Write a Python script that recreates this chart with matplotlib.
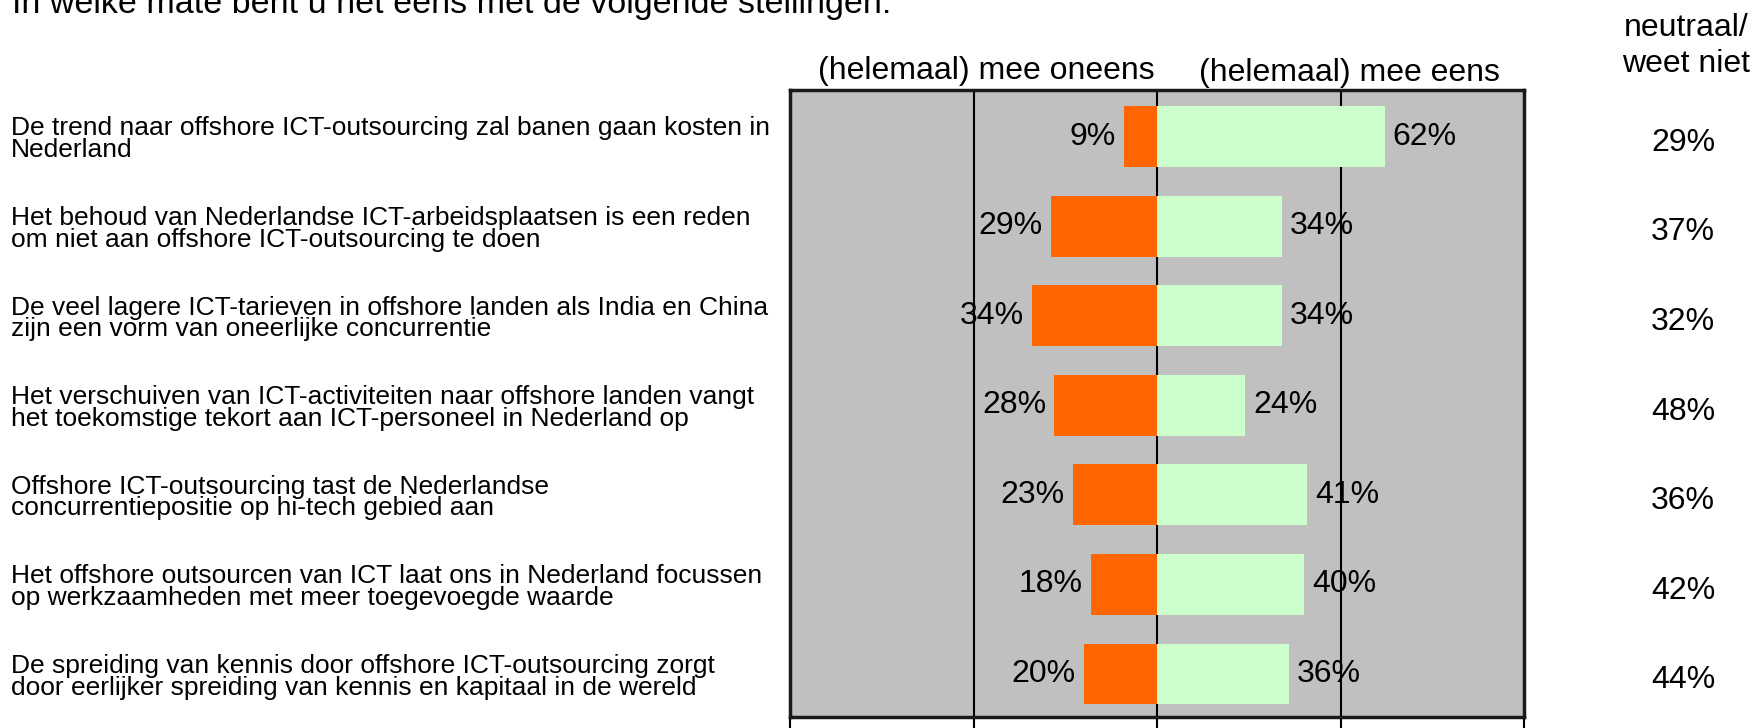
import matplotlib
matplotlib.use('Agg')
import matplotlib.pyplot as plt

plt.rcParams['font.family'] = ['Liberation Sans', 'DejaVu Sans']

stellingen = [
    'De trend naar offshore ICT-outsourcing zal banen gaan kosten in\nNederland',
    'Het behoud van Nederlandse ICT-arbeidsplaatsen is een reden\nom niet aan offshore ICT-outsourcing te doen',
    'De veel lagere ICT-tarieven in offshore landen als India en China\nzijn een vorm van oneerlijke concurrentie',
    'Het verschuiven van ICT-activiteiten naar offshore landen vangt\nhet toekomstige tekort aan ICT-personeel in Nederland op',
    'Offshore ICT-outsourcing tast de Nederlandse\nconcurrentiepositie op hi-tech gebied aan',
    'Het offshore outsourcen van ICT laat ons in Nederland focussen\nop werkzaamheden met meer toegevoegde waarde',
    'De spreiding van kennis door offshore ICT-outsourcing zorgt\ndoor eerlijker spreiding van kennis en kapitaal in de wereld',
]
oneens = [9, 29, 34, 28, 23, 18, 20]
eens = [62, 34, 34, 24, 41, 40, 36]
neutraal = [29, 37, 32, 48, 36, 42, 44]

W, H = 1763, 728
ax_l, ax_r, ax_t, ax_b = 790, 1524, 90, 717
fig = plt.figure(figsize=(W / 100, H / 100), dpi=100)
ax = fig.add_axes([ax_l / W, (H - ax_b) / H, (ax_r - ax_l) / W, (ax_b - ax_t) / H])
ax.set_facecolor('#C0C0C0')

rows = list(range(len(stellingen)))
ax.barh(rows, [-v for v in oneens], height=0.68, color='#FF6600', zorder=3)
ax.barh(rows, eens, height=0.68, color='#CCFFCC', zorder=3)

for x in [-50, 0, 50]:
    ax.axvline(x, color='black', lw=1.5, zorder=2)

ax.set_xlim(-100, 100)
ax.set_ylim(6.48, -0.52)

# x-posities buiten de as in as-fracties
lab_x = (11 - ax_l) / (ax_r - ax_l)
neu_x = (1683 - ax_l) / (ax_r - ax_l)

for i in rows:
    ax.text(-oneens[i] - 2.2, i, f'{oneens[i]}%', ha='right', va='center',
            fontsize=23, zorder=5)
    ax.text(eens[i] + 2.2, i, f'{eens[i]}%', ha='left', va='center',
            fontsize=23, zorder=5)
    ax.text(lab_x, i + 0.03, stellingen[i], transform=ax.get_yaxis_transform(),
            ha='left', va='center', fontsize=19, linespacing=0.88,
            clip_on=False)
    ax.text(neu_x, i + 0.07, f'{neutraal[i]}%', transform=ax.get_yaxis_transform(),
            ha='center', va='center', fontsize=23, clip_on=False)

for s in ax.spines.values():
    s.set_linewidth(2.5)
    s.set_color('#1a1a1a')

ax.set_yticks([])
ax.set_xticks([-100, -50, 0, 50, 100])
ax.tick_params(axis='x', direction='out', length=14, width=1.5,
               labelbottom=False)

fig.text(12 / W, (H - 13) / H, 'In welke mate bent u het eens met de volgende stellingen:',
         ha='left', va='baseline', fontsize=24.5)
fig.text(986 / W, (H - 71) / H, '(helemaal) mee oneens', ha='center', va='center',
         fontsize=23)
fig.text(1349 / W, (H - 73) / H, '(helemaal) mee eens', ha='center', va='center',
         fontsize=23)
fig.text(1686 / W, (H - 28) / H, 'neutraal/', ha='center', va='center', fontsize=23)
fig.text(1686 / W, (H - 64) / H, 'weet niet', ha='center', va='center', fontsize=23)

fig.savefig('out.png', dpi=100)
